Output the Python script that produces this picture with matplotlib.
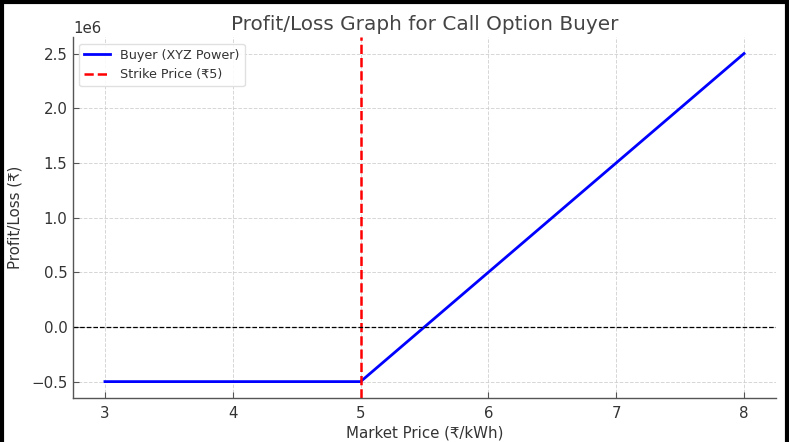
import matplotlib.pyplot as plt
from matplotlib.lines import Line2D

# --- data ---
market_price = [3.0, 5.0, 8.0]            # ₹/kWh, kink points of the payoff
buyer_pl = [-0.5e6, -0.5e6, 2.5e6]        # ₹
strike_price = 5.0
xticks = [3, 4, 5, 6, 7, 8]

text_col = "#333333"
plt.rcParams["text.color"] = text_col
plt.rcParams["axes.labelcolor"] = text_col
plt.rcParams["xtick.color"] = text_col
plt.rcParams["ytick.color"] = text_col

fig = plt.figure(figsize=(7.89, 4.42), dpi=100)
ax = fig.add_axes([0.0925, 0.0995, 0.891, 0.8165])

ax.plot(market_price, buyer_pl, color="blue", linewidth=2, label="Buyer (XYZ Power)")
ax.axvline(strike_price, color="red", linestyle="--", linewidth=1.8,
           label=f"Strike Price (₹{strike_price:g})")
ax.axhline(0, color="black", linestyle="--", linewidth=0.9)

ax.set_xticks(xticks)
ax.set_title("Profit/Loss Graph for Call Option Buyer", fontsize=14.4, color="#444444", pad=5)
ax.set_xlabel("Market Price (₹/kWh)", fontsize=10.8, labelpad=3)
ax.set_ylabel("Profit/Loss (₹)", fontsize=10.8, labelpad=6)
ax.grid(True, linestyle="--", color="#cccccc", linewidth=0.7, alpha=0.8)
ax.set_axisbelow(True)

for side in ["top", "right"]:
    ax.spines[side].set_visible(False)
for side in ["left", "bottom"]:
    ax.spines[side].set_color("#555555")
    ax.spines[side].set_linewidth(1.0)
ax.tick_params(axis="both", direction="in", length=4, width=0.8, labelsize=10.8,
               color="#555555", pad=4)
ax.tick_params(axis="x", pad=6)
ax.yaxis.get_offset_text().set_fontsize(10.8)

ax.legend(loc="upper left", fontsize=9.2, frameon=True, framealpha=0.9,
          edgecolor="#dddddd", fancybox=True)

# black frame around the screenshot (top, left, right)
for xs, ys in [([0.0025, 0.0025], [0, 1]), ([0, 1], [0.9955, 0.9955]), ([0.9975, 0.9975], [0, 1])]:
    fig.add_artist(Line2D(xs, ys, color="black", linewidth=3, transform=fig.transFigure))

fig.savefig("out.png", dpi=100)
